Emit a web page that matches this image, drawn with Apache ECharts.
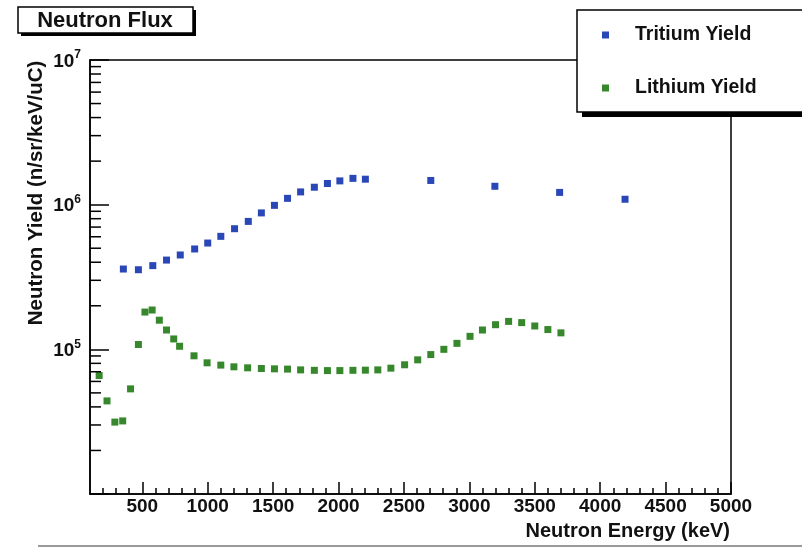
<!DOCTYPE html>
<html>
<head>
<meta charset="utf-8">
<title>Neutron Flux</title>
<script src="https://cdn.jsdelivr.net/npm/echarts@6/dist/echarts.min.js"></script>
<style>
  html, body { margin: 0; padding: 0; background: #ffffff; }
  #chart { width: 802px; height: 549px; }
</style>
</head>
<body>
<div id="chart"></div>
<script>
// Neutron energy (keV) and yield (n/sr/keV/uC) for the two reactions
const tritiumEnergy = [355, 470, 580, 685, 790, 900, 1000, 1100, 1205, 1310, 1410, 1510,
  1610, 1710, 1815, 1915, 2010, 2110, 2205, 2705, 3195, 3690, 4190];
const tritiumYield = [3.59e5, 3.55e5, 3.79e5, 4.14e5, 4.49e5, 4.94e5, 5.43e5, 6.04e5, 6.82e5,
  7.66e5, 8.77e5, 9.89e5, 1.106e6, 1.225e6, 1.32e6, 1.40e6, 1.46e6, 1.52e6, 1.50e6,
  1.47e6, 1.34e6, 1.215e6, 1.09e6];

const lithiumEnergy = [170, 230, 290, 350, 410, 470, 520, 575, 630, 685, 740, 785, 895, 995,
  1100, 1200, 1305, 1410, 1510, 1610, 1710, 1815, 1915, 2010, 2110, 2205, 2300, 2400, 2505,
  2605, 2705, 2805, 2905, 3005, 3100, 3200, 3300, 3400, 3500, 3600, 3700];
const lithiumYield = [6.59e4, 4.40e4, 3.14e4, 3.20e4, 5.33e4, 1.08e5, 1.81e5, 1.87e5, 1.59e5,
  1.36e5, 1.18e5, 1.05e5, 9.02e4, 8.07e4, 7.78e4, 7.57e4, 7.45e4, 7.37e4, 7.33e4, 7.30e4,
  7.21e4, 7.16e4, 7.13e4, 7.13e4, 7.16e4, 7.18e4, 7.21e4, 7.41e4, 7.82e4, 8.46e4, 9.20e4,
  1.00e5, 1.10e5, 1.23e5, 1.36e5, 1.48e5, 1.56e5, 1.53e5, 1.45e5, 1.37e5, 1.30e5];

// Axis ranges and tick values
const xRange = [100, 5000];
const yRange = [1e4, 1e7];
const xMajorTicks = [500, 1000, 1500, 2000, 2500, 3000, 3500, 4000, 4500, 5000];
const xMinorTicks = [];
for (let v = 200; v < 5000; v += 100) { if (v % 500 !== 0) xMinorTicks.push(v); }
const yMinorTicks = [];
[1e4, 1e5, 1e6].forEach(function (d) { for (let m = 2; m <= 9; m++) yMinorTicks.push(m * d); });

const seriesNames = ['Tritium Yield', 'Lithium Yield'];
const seriesColors = ['#2a47b8', '#37882c'];
const titleText = 'Neutron Flux';
const xTitle = 'Neutron Energy (keV)';
const yTitle = 'Neutron Yield (n/sr/keV/uC)';

const FONT = "'Liberation Sans', Arial, Helvetica, sans-serif";
const INK = '#111111';

function pairs(xs, ys) { return xs.map(function (x, i) { return [x, ys[i]]; }); }

const chart = echarts.init(document.getElementById('chart'), null, { renderer: 'canvas' });

chart.setOption({
  backgroundColor: '#ffffff',
  animation: false,
  grid: {
    left: 90, right: 71, top: 60, bottom: 55,
    show: true, borderColor: '#000', borderWidth: 1.5, backgroundColor: 'transparent'
  },
  legend: {
    data: seriesNames,
    orient: 'vertical',
    left: 602, top: 25,
    padding: 0,
    itemWidth: 7, itemHeight: 7,
    itemGap: 33,
    icon: 'rect',
    z: 60,
    textStyle: {
      fontFamily: FONT, fontSize: 19.5, fontWeight: 'bold', color: INK,
      lineHeight: 20, padding: [0, 0, 0, 21]
    }
  },
  xAxis: [{
    type: 'value', min: xRange[0], max: xRange[1], position: 'bottom',
    axisLine: { show: true, onZero: false, lineStyle: { color: '#000', width: 1.5 } },
    axisTick: { show: true, inside: true, length: 12, customValues: xMajorTicks,
      lineStyle: { color: '#000', width: 1.5 } },
    axisLabel: { customValues: xMajorTicks, margin: 3, fontFamily: FONT, fontSize: 19,
      fontWeight: 'bold', color: INK, formatter: function (v) { return String(v); } },
    splitLine: { show: false }
  }, {
    type: 'value', min: xRange[0], max: xRange[1], position: 'bottom',
    axisLine: { show: false },
    axisTick: { show: true, inside: true, length: 6, customValues: xMinorTicks,
      lineStyle: { color: '#000', width: 1.5 } },
    axisLabel: { show: false },
    splitLine: { show: false }
  }],
  yAxis: [{
    type: 'log', logBase: 10, min: yRange[0], max: yRange[1],
    axisLine: { show: true, onZero: false, lineStyle: { color: '#000', width: 1.5 } },
    axisTick: { show: true, inside: true, length: 19, lineStyle: { color: '#000', width: 1.5 } },
    axisLabel: {
      margin: 9,
      formatter: function (v) {
        const e = Math.round(Math.log10(v));
        if (e <= 4) return '';
        return '{b|10}{s|' + e + '}';
      },
      rich: {
        b: { fontFamily: FONT, fontSize: 19, fontWeight: 'bold', color: INK, lineHeight: 22, verticalAlign: 'bottom' },
        s: { fontFamily: FONT, fontSize: 12, fontWeight: 'bold', color: INK, lineHeight: 14, verticalAlign: 'top' }
      }
    },
    splitLine: { show: false }
  }],
  graphic: [
    // title box with drop shadow
    { type: 'rect', z: 50, shape: { x: 21, y: 10, width: 175, height: 26 }, style: { fill: '#000' } },
    { type: 'rect', z: 51, shape: { x: 18, y: 7, width: 175, height: 26 },
      style: { fill: '#ffffff', stroke: '#000', lineWidth: 1.5 } },
    { type: 'text', z: 52, x: 105, y: 21,
      style: { text: titleText, fontFamily: FONT, fontSize: 22, fontWeight: 'bold', fill: INK,
        align: 'center', verticalAlign: 'middle' } },
    // legend box with drop shadow
    { type: 'rect', z: 50, shape: { x: 582, y: 15, width: 240, height: 102 }, style: { fill: '#000' } },
    { type: 'rect', z: 51, shape: { x: 577, y: 10, width: 240, height: 102 },
      style: { fill: '#ffffff', stroke: '#000', lineWidth: 1.5 } },
    // axis titles
    { type: 'text', z: 52, x: 730, y: 531,
      style: { text: xTitle, fontFamily: FONT, fontSize: 20, fontWeight: 'bold', fill: INK,
        align: 'right', verticalAlign: 'middle' } },
    { type: 'text', z: 52, x: 36, y: 193, rotation: Math.PI / 2,
      style: { text: yTitle, fontFamily: FONT, fontSize: 20.5, fontWeight: 'bold', fill: INK,
        align: 'center', verticalAlign: 'middle' } },
    // rule under the figure
    { type: 'line', z: 50, shape: { x1: 38, y1: 546, x2: 802, y2: 546 },
      style: { stroke: '#9a9a9a', lineWidth: 2 } }
  ],
  series: [{
    name: seriesNames[0], type: 'scatter', symbol: 'rect', symbolSize: 7,
    itemStyle: { color: seriesColors[0], opacity: 1 },
    data: pairs(tritiumEnergy, tritiumYield)
  }, {
    name: seriesNames[1], type: 'scatter', symbol: 'rect', symbolSize: 7,
    itemStyle: { color: seriesColors[1], opacity: 1 },
    data: pairs(lithiumEnergy, lithiumYield)
  }, {
    // minor ticks on the logarithmic axis (2..9 in every decade)
    type: 'custom', silent: true, z: 3,
    data: yMinorTicks.map(function (v) { return [xRange[0], v]; }),
    renderItem: function (params, api) {
      const p = api.coord([api.value(0), api.value(1)]);
      return { type: 'line', shape: { x1: p[0], y1: p[1], x2: p[0] + 11, y2: p[1] },
        style: { stroke: '#000', lineWidth: 1.5 } };
    }
  }]
});
</script>
</body>
</html>
